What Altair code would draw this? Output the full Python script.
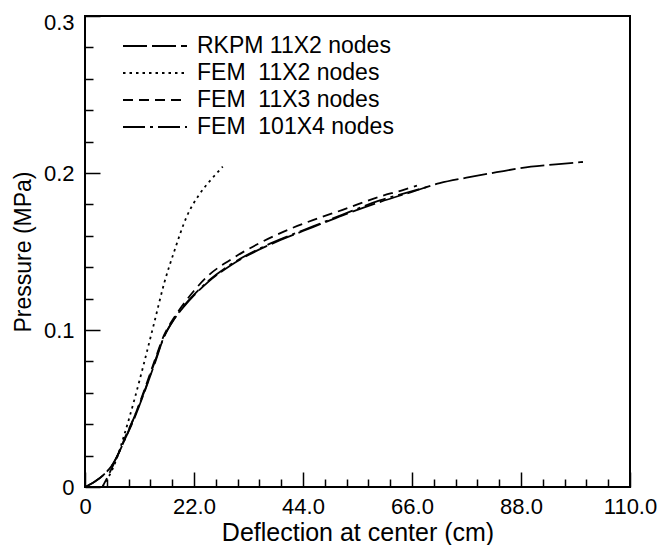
import altair as alt
import pandas as pd

# ---- data ----
series_names = ["RKPM 11X2 nodes", "FEM\u00a0 11X2 nodes", "FEM\u00a0 11X3 nodes", "FEM\u00a0 101X4 nodes"]

rkpm_x = [0, 2, 3.7, 5.7, 8, 10, 12, 14, 16, 18, 20, 22, 25, 29.3, 35, 40, 46, 52, 59.5, 66, 71.6, 77, 83.1, 90, 95, 100.5]
rkpm_y = [0, 0.0035, 0.0076, 0.015, 0.03, 0.044, 0.0605, 0.078, 0.096, 0.107, 0.115, 0.122, 0.131, 0.141, 0.151, 0.158, 0.1655, 0.173, 0.1815, 0.188, 0.1935, 0.197, 0.2005, 0.204, 0.2055, 0.207]

fem2_x = [3.5, 4.5, 5.5, 6.5, 8, 10, 12, 14, 16, 18, 20.5, 23, 25.5, 27.8]
fem2_y = [0, 0.005, 0.011, 0.019, 0.034, 0.056, 0.08, 0.105, 0.13, 0.15, 0.172, 0.186, 0.196, 0.204]

fem3_x = [3.5, 4.5, 5.7, 7, 8, 10, 12, 14, 16, 18, 20, 22, 25, 29.3, 35, 40, 46, 52, 59.5, 64, 67]
fem3_y = [0, 0.006, 0.014, 0.023, 0.031, 0.045, 0.062, 0.08, 0.097, 0.108, 0.117, 0.125, 0.135, 0.1446, 0.155, 0.1625, 0.170, 0.1765, 0.185, 0.189, 0.192]

fem4_x = [0, 2, 3.7, 5.7, 8, 10, 12, 14, 16, 18, 20, 22, 25, 29.3, 35, 40, 46, 52, 59.5, 65, 69.5]
fem4_y = [0, 0.0035, 0.0076, 0.015, 0.03, 0.045, 0.061, 0.079, 0.096, 0.107, 0.1155, 0.1225, 0.1315, 0.1415, 0.1515, 0.1585, 0.166, 0.1735, 0.1825, 0.1875, 0.1915]

x_major = [0, 22, 44, 66, 88, 110]
x_minor = [4.4, 8.8, 13.2, 17.6, 26.4, 30.8, 35.2, 39.6, 48.4, 52.8, 57.2, 61.6,
           70.4, 74.8, 79.2, 83.6, 92.4, 96.8, 101.2, 105.6]
y_major = [0, 0.1, 0.2, 0.3]
y_minor = [0.02, 0.04, 0.06, 0.08, 0.12, 0.14, 0.16, 0.18, 0.22, 0.24, 0.26, 0.28]

dash_patterns = [[24, 5], [2.5, 4], [10, 6], [22, 5, 3, 5]]

# ---- build tables ----
rows = []
for name, xs, ys in zip(series_names, [rkpm_x, fem2_x, fem3_x, fem4_x], [rkpm_y, fem2_y, fem3_y, fem4_y]):
    for a, b in zip(xs, ys):
        rows.append({"series": name, "x": a, "y": b})
df = pd.DataFrame(rows)

xticks_df = pd.DataFrame({"x": x_major + x_minor})
yticks_df = pd.DataFrame({"y": y_major + y_minor})
legend_df = pd.DataFrame({"series": series_names, "k": list(range(len(series_names)))})

FONT = "Liberation Sans"
W, H = 545, 471

xscale = alt.Scale(domain=[0, 110], nice=False, zero=False)
yscale = alt.Scale(domain=[0, 0.3], nice=False, zero=False)
dash_scale = alt.Scale(domain=series_names, range=dash_patterns)
legend_y = alt.Scale(domain=[0, 3], range=[30, 111])

x_axis = alt.Axis(values=x_major, labelExpr="datum.value == 0 ? '0' : format(datum.value, '.1f')",
                  title="Deflection at center (cm)", ticks=False, tickSize=0, domain=False, grid=False,
                  labelFont=FONT, labelFontSize=22, labelColor="black", labelPadding=9,
                  labelFlush=False, titleFont=FONT, titleFontSize=25, titleFontWeight="normal",
                  titleColor="black", titlePadding=3)
y_axis = alt.Axis(values=y_major, labelExpr="datum.value == 0 ? '0' : format(datum.value, '.1f')",
                  title="Pressure (MPa)", ticks=False, tickSize=0, domain=False, grid=False,
                  labelFont=FONT, labelFontSize=22, labelColor="black", labelPadding=11,
                  labelFlush=False,
                  labelOffset={"condition": {"test": "datum.value > 0.25", "value": 6}, "value": 0},
                  titleFont=FONT, titleFontSize=23, titleFontWeight="normal",
                  titleColor="black", titlePadding=8)

# tick-only axes moved onto the bottom / left edges so that their ticks point inward
x_tick_axis = alt.Axis(orient="top", offset=-H, values=x_major + x_minor, labels=False, domain=False,
                       grid=False, ticks=True, title=None, tickColor="black", tickWidth=1.5,
                       tickSize={"condition": {"test": "abs(datum.value / 22 - round(datum.value / 22)) < 0.001",
                                               "value": 15}, "value": 8})
y_tick_axis = alt.Axis(orient="right", offset=-W, values=y_major + y_minor, labels=False, domain=False,
                       grid=False, ticks=True, title=None, tickColor="black", tickWidth=1.5,
                       tickSize={"condition": {"test": "abs(datum.value * 10 - round(datum.value * 10)) < 0.001",
                                               "value": 15}, "value": 8})

lines = alt.Chart(df).mark_line(color="black", strokeWidth=1.8, interpolate="monotone").encode(
    x=alt.X("x:Q", scale=xscale, axis=x_axis),
    y=alt.Y("y:Q", scale=yscale, axis=y_axis),
    strokeDash=alt.StrokeDash("series:N", scale=dash_scale, legend=None),
)

xt = alt.Chart(xticks_df).mark_point(opacity=0).encode(
    x=alt.X("x:Q", scale=xscale, axis=x_tick_axis))
yt = alt.Chart(yticks_df).mark_point(opacity=0).encode(
    y=alt.Y("y:Q", scale=yscale, axis=y_tick_axis))

# legend inside the plot
leg_lines = alt.Chart(legend_df).mark_rule(color="black", strokeWidth=2).encode(
    x=alt.value(38), x2=alt.value(102),
    y=alt.Y("k:Q", scale=legend_y, axis=None),
    strokeDash=alt.StrokeDash("series:N", scale=dash_scale, legend=None))
leg_text = alt.Chart(legend_df).mark_text(align="left", baseline="middle", font=FONT, fontSize=23,
                                          color="black").encode(
    x=alt.value(112),
    y=alt.Y("k:Q", scale=legend_y, axis=None),
    text="series:N")

chart = alt.layer(lines, xt, yt, leg_lines, leg_text).resolve_scale(
    x="independent", y="independent"
).properties(
    width=W, height=H,
    autosize=alt.AutoSizeParams(type="none"),
    padding={"left": 77, "top": 8, "right": 32, "bottom": 58},
    background="white",
).configure_view(stroke="black", strokeWidth=2)

chart.save("out.html", embed_options={"renderer": "svg", "actions": False})
